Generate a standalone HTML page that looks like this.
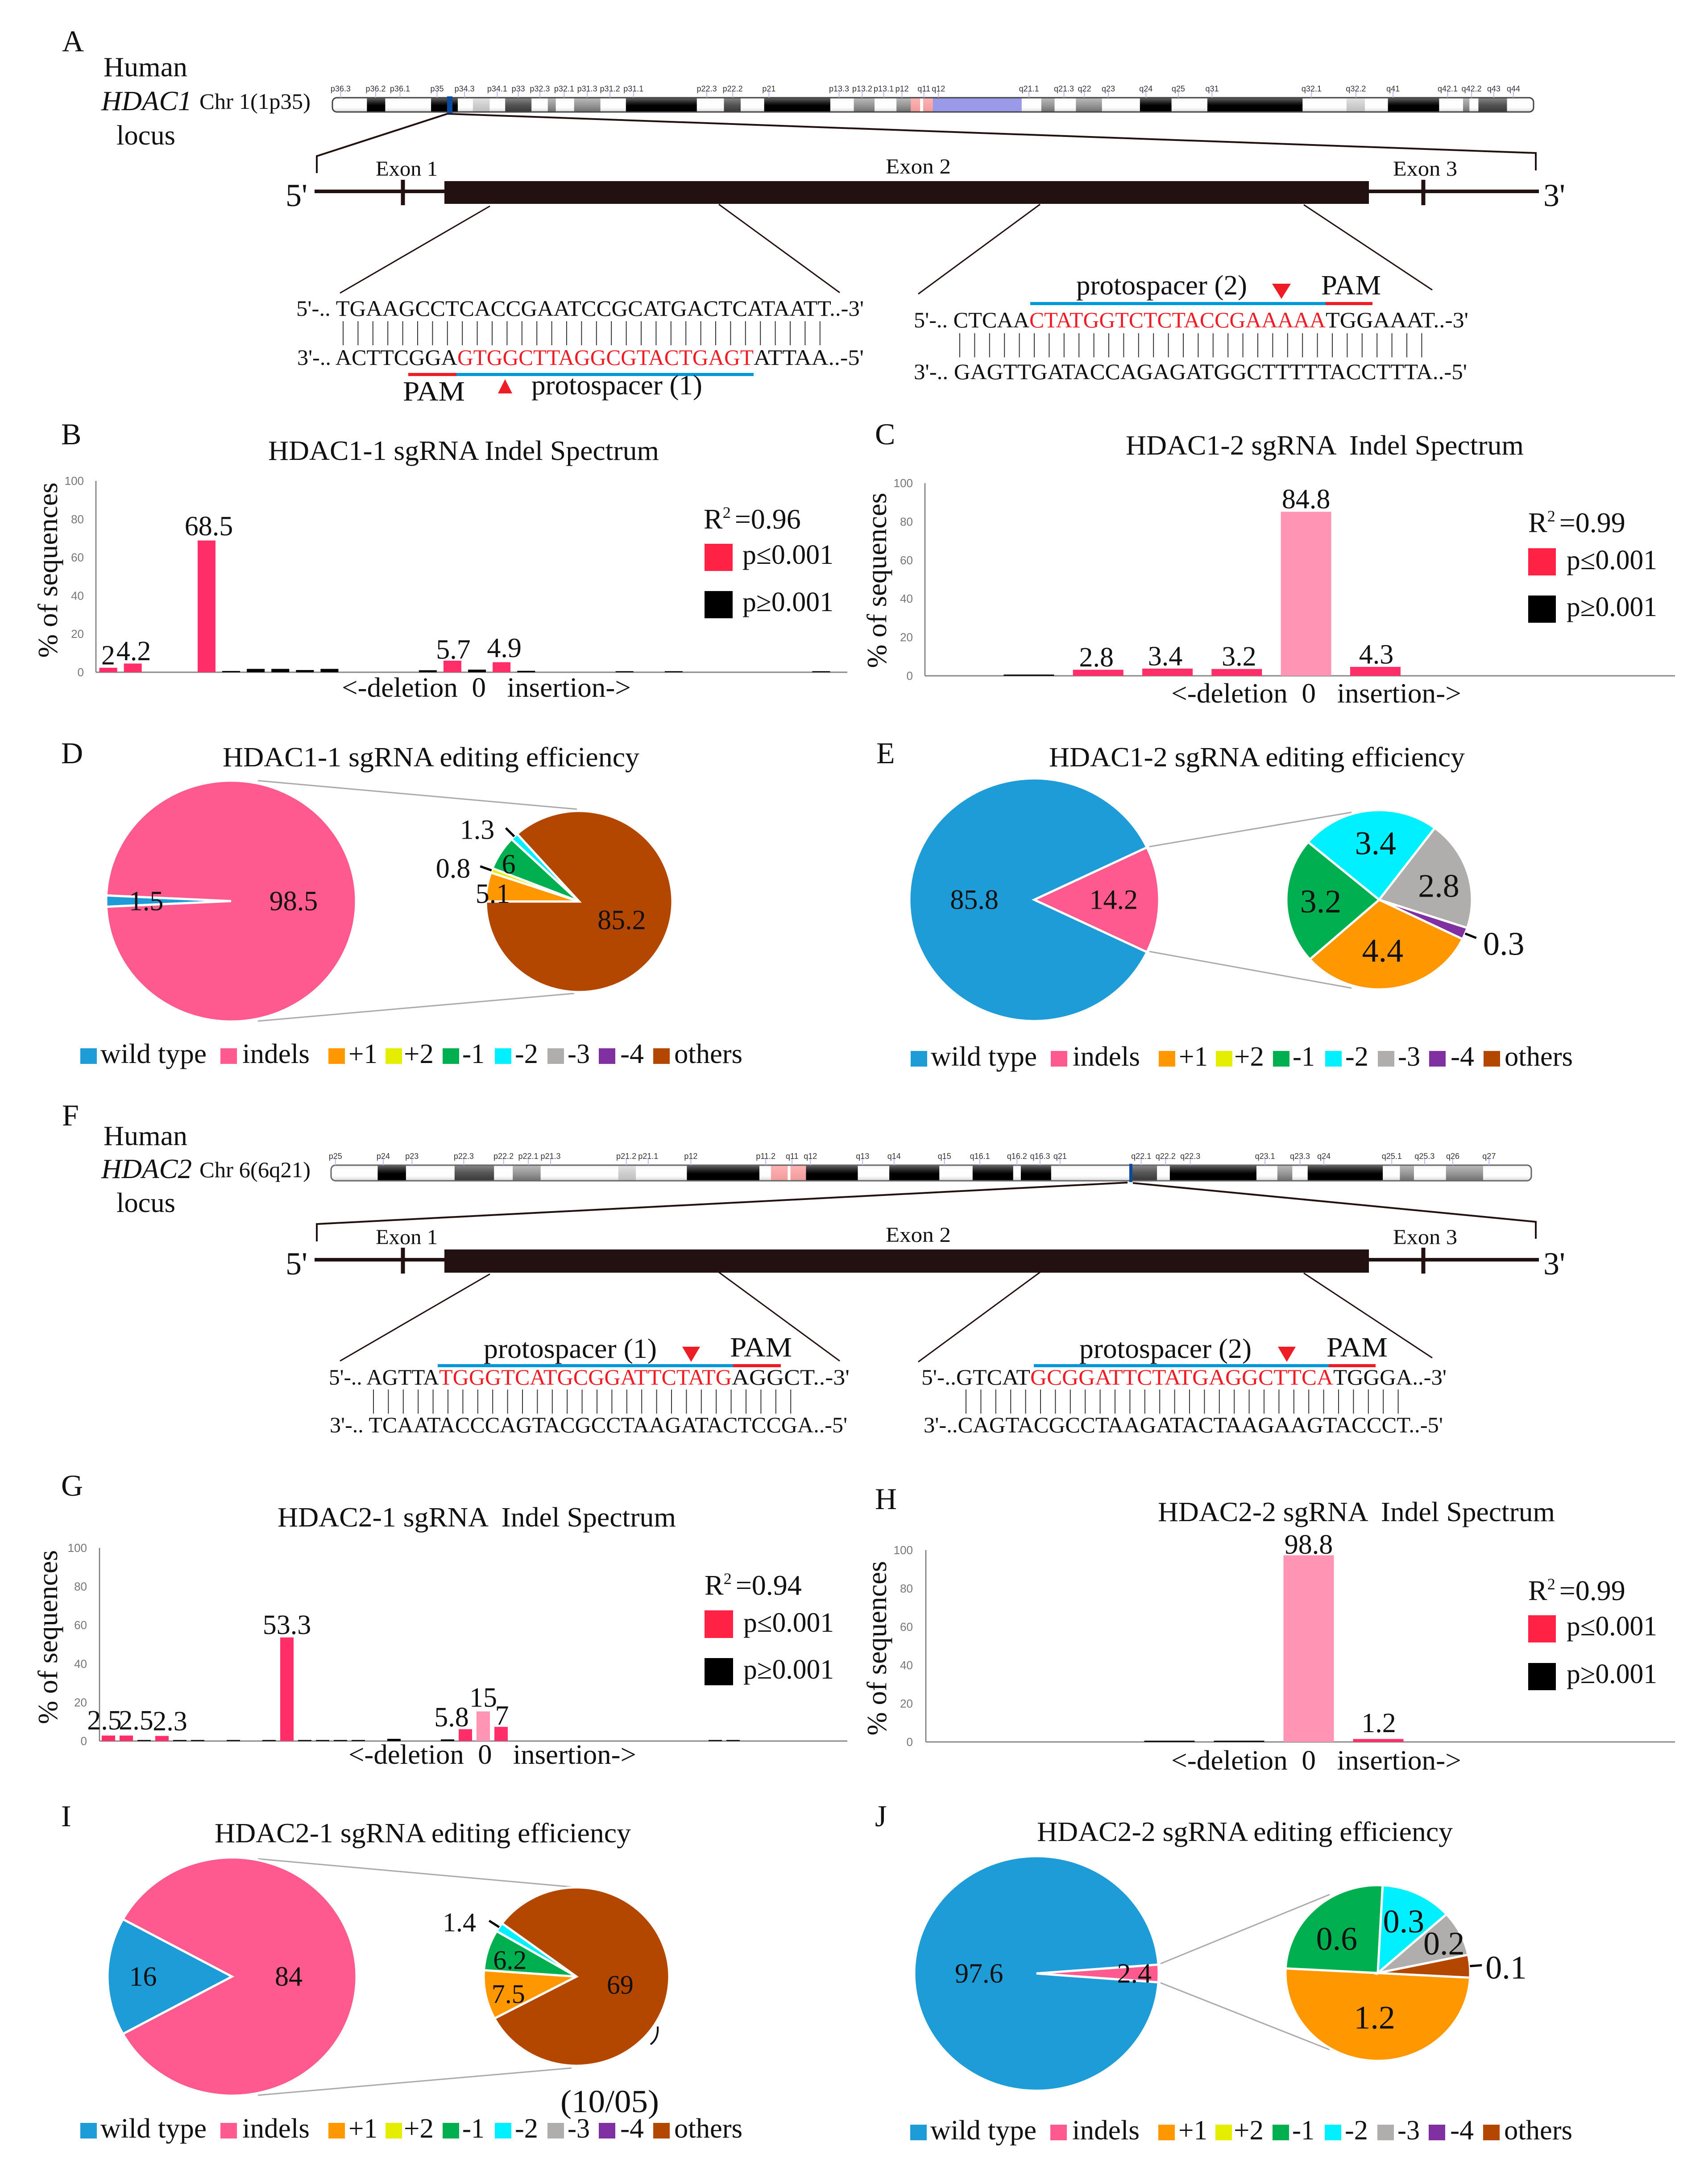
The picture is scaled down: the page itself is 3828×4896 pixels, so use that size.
<!DOCTYPE html>
<html lang="en">
<head>
<meta charset="utf-8">
<title>HDAC1 and HDAC2 sgRNA editing figure</title>
<style>
html,body{margin:0;padding:0;background:#fff}
svg{display:block}
text{white-space:pre;font-family:"Liberation Serif","DejaVu Serif",serif;fill:#111}
.g{stroke:#231010;fill:none}
.c{stroke:#aaa;stroke-width:3;fill:none}
</style>
</head>
<body>
<svg id="figure" width="3828" height="4896" viewBox="0 0 3828 4896">
<defs>
<linearGradient id="gW" x1="0" y1="0" x2="0" y2="1"><stop offset="0" stop-color="#f2f2f2"/><stop offset=".3" stop-color="#fff"/><stop offset=".7" stop-color="#fdfdfd"/><stop offset="1" stop-color="#d8d8d8"/></linearGradient>
<linearGradient id="gK" x1="0" y1="0" x2="0" y2="1"><stop offset="0" stop-color="#666"/><stop offset=".3" stop-color="#2a2a2a"/><stop offset=".55" stop-color="#000"/><stop offset="1" stop-color="#000"/></linearGradient>
<linearGradient id="gD" x1="0" y1="0" x2="0" y2="1"><stop offset="0" stop-color="#888"/><stop offset=".5" stop-color="#555"/><stop offset="1" stop-color="#383838"/></linearGradient>
<linearGradient id="gM" x1="0" y1="0" x2="0" y2="1"><stop offset="0" stop-color="#bbb"/><stop offset=".5" stop-color="#999"/><stop offset="1" stop-color="#707070"/></linearGradient>
<linearGradient id="gL" x1="0" y1="0" x2="0" y2="1"><stop offset="0" stop-color="#e2e2e2"/><stop offset="1" stop-color="#bdbdbd"/></linearGradient>
<linearGradient id="gP" x1="0" y1="0" x2="0" y2="1"><stop offset="0" stop-color="#ffb4b4"/><stop offset="1" stop-color="#f09a9a"/></linearGradient>
<clipPath id="clipChr1"><rect x="745" y="219" width="2692" height="32" rx="10"/></clipPath>
<clipPath id="clipChr6"><rect x="742" y="2612" width="2690" height="35" rx="10"/></clipPath>
</defs>
<rect x="0" y="0" width="3828" height="4896" fill="#fff"/>

<!-- panel letters -->
<g font-size="68">
<text x="139" y="115">A</text>
<text x="137" y="996">B</text>
<text x="1961" y="996">C</text>
<text x="137" y="1711">D</text>
<text x="1964" y="1711">E</text>
<text x="139" y="2523">F</text>
<text x="137" y="3353">G</text>
<text x="1961" y="3383">H</text>
<text x="137" y="4094">I</text>
<text x="1961" y="4094">J</text>
</g>

<!-- panel A locus -->
<g>
<text x="232" y="171" font-size="62" textLength="188" lengthAdjust="spacingAndGlyphs">Human</text>
<text x="227" y="247" font-size="62" font-style="italic" textLength="203" lengthAdjust="spacingAndGlyphs">HDAC1</text>
<text x="447" y="244" font-size="50" textLength="249" lengthAdjust="spacingAndGlyphs">Chr 1(1p35)</text>
<text x="261" y="324" font-size="62" textLength="132" lengthAdjust="spacingAndGlyphs">locus</text>
<path class="g" stroke-width="4" d="M710 388V350L1003 255L3442 343V382"/>
<text x="842" y="394" font-size="48" textLength="139" lengthAdjust="spacingAndGlyphs">Exon 1</text>
<text x="1985" y="389" font-size="48" textLength="146" lengthAdjust="spacingAndGlyphs">Exon 2</text>
<text x="3122" y="394" font-size="48" textLength="144" lengthAdjust="spacingAndGlyphs">Exon 3</text>
<text x="640" y="462" font-size="72">5'</text>
<text x="3459" y="462" font-size="72">3'</text>
<line class="g" stroke-width="8" x1="705" y1="429" x2="3449" y2="429"/>
<rect x="996" y="406" width="2072" height="51" fill="#231010"/>
<line class="g" stroke-width="9" x1="903" y1="403" x2="903" y2="460"/>
<line class="g" stroke-width="9" x1="3190" y1="403" x2="3190" y2="460"/>
<path class="g" stroke-width="3" d="M1098 462L762 657M1611 458L1882 656M2331 458L2058 659M2922 459L3210 650"/>

<text x="664" y="708" font-size="50" textLength="1272" lengthAdjust="spacingAndGlyphs">5'-.. TGAAGCCTCACCGAATCCGCATGACTCATAATT..-3'</text>
<line x1="768" y1="747" x2="1842" y2="747" stroke="#333" stroke-width="54" stroke-dasharray="2 31.4"/>
<text x="666" y="818" font-size="50" textLength="359" lengthAdjust="spacingAndGlyphs">3'-.. ACTTCGGA</text>
<text x="1025" y="818" font-size="50" style="fill:#ee1c25" textLength="664" lengthAdjust="spacingAndGlyphs">GTGGCTTAGGCGTACTGAGT</text>
<text x="1689" y="818" font-size="50" textLength="247" lengthAdjust="spacingAndGlyphs">ATTAA..-5'</text>
<rect x="915" y="836" width="108" height="7" fill="#ee1c25"/>
<rect x="1023" y="836" width="666" height="7" fill="#0098d8"/>
<text x="903" y="898" font-size="62" textLength="139" lengthAdjust="spacingAndGlyphs">PAM</text>
<polygon points="1132,850 1148,882 1116,882" fill="#ee1c25"/>
<text x="1191" y="884" font-size="62" textLength="383" lengthAdjust="spacingAndGlyphs">protospacer (1)</text>

<text x="2412" y="660" font-size="62" textLength="383" lengthAdjust="spacingAndGlyphs">protospacer (2)</text>
<polygon points="2851,636 2893,636 2872,670" fill="#ee1c25"/>
<text x="2961" y="660" font-size="62" textLength="134" lengthAdjust="spacingAndGlyphs">PAM</text>
<rect x="2309" y="677" width="662" height="7" fill="#0098d8"/>
<rect x="2971" y="677" width="105" height="7" fill="#ee1c25"/>
<text x="2048" y="734" font-size="50" textLength="259" lengthAdjust="spacingAndGlyphs">5'-.. CTCAA</text>
<text x="2307" y="734" font-size="50" style="fill:#ee1c25" textLength="664" lengthAdjust="spacingAndGlyphs">CTATGGTCTCTACCGAAAAA</text>
<text x="2971" y="734" font-size="50" textLength="320" lengthAdjust="spacingAndGlyphs">TGGAAAT..-3'</text>
<line x1="2150" y1="774" x2="3195" y2="774" stroke="#333" stroke-width="54" stroke-dasharray="2 31.4"/>
<text x="2048" y="850" font-size="50" textLength="1240" lengthAdjust="spacingAndGlyphs">3'-.. GAGTTGATACCAGAGATGGCTTTTTACCTTTA..-5'</text>
</g>

<!-- panel F locus -->
<g>
<text x="232" y="2567" font-size="62" textLength="188" lengthAdjust="spacingAndGlyphs">Human</text>
<text x="227" y="2641" font-size="62" font-style="italic" textLength="203" lengthAdjust="spacingAndGlyphs">HDAC2</text>
<text x="447" y="2639" font-size="50" textLength="249" lengthAdjust="spacingAndGlyphs">Chr 6(6q21)</text>
<text x="261" y="2717" font-size="62" textLength="132" lengthAdjust="spacingAndGlyphs">locus</text>
<path class="g" stroke-width="4" d="M710 2783V2744L2527 2651M2539 2652L3442 2739V2777"/>
<text x="842" y="2789" font-size="48" textLength="139" lengthAdjust="spacingAndGlyphs">Exon 1</text>
<text x="1985" y="2784" font-size="48" textLength="146" lengthAdjust="spacingAndGlyphs">Exon 2</text>
<text x="3122" y="2789" font-size="48" textLength="144" lengthAdjust="spacingAndGlyphs">Exon 3</text>
<text x="640" y="2857" font-size="72">5'</text>
<text x="3459" y="2857" font-size="72">3'</text>
<line class="g" stroke-width="8" x1="705" y1="2824" x2="3449" y2="2824"/>
<rect x="996" y="2801" width="2072" height="52" fill="#231010"/>
<line class="g" stroke-width="9" x1="903" y1="2797" x2="903" y2="2855"/>
<line class="g" stroke-width="9" x1="3190" y1="2797" x2="3190" y2="2855"/>
<path class="g" stroke-width="3" d="M1098 2856L762 3051M1611 2852L1882 3051M2331 2852L2058 3053M2922 2854L3210 3044"/>

<text x="1084" y="3044" font-size="62" textLength="388" lengthAdjust="spacingAndGlyphs">protospacer (1)</text>
<polygon points="1529,3019 1569,3019 1549,3053" fill="#ee1c25"/>
<text x="1636" y="3041" font-size="62" textLength="139" lengthAdjust="spacingAndGlyphs">PAM</text>
<rect x="981" y="3058" width="662" height="7" fill="#0098d8"/>
<rect x="1643" y="3058" width="107" height="7" fill="#ee1c25"/>
<text x="737" y="3104" font-size="50" textLength="247" lengthAdjust="spacingAndGlyphs">5'-.. AGTTA</text>
<text x="984" y="3104" font-size="50" style="fill:#ee1c25" textLength="656" lengthAdjust="spacingAndGlyphs">TGGGTCATGCGGATTCTATG</text>
<text x="1640" y="3104" font-size="50" textLength="264" lengthAdjust="spacingAndGlyphs">AGGCT..-3'</text>
<line x1="836" y1="3142" x2="1802" y2="3142" stroke="#333" stroke-width="54" stroke-dasharray="2 31.4"/>
<text x="739" y="3211" font-size="50" textLength="1160" lengthAdjust="spacingAndGlyphs">3'-.. TCAATACCCAGTACGCCTAAGATACTCCGA..-5'</text>

<text x="2419" y="3044" font-size="62" textLength="386" lengthAdjust="spacingAndGlyphs">protospacer (2)</text>
<polygon points="2864,3019 2904,3019 2884,3053" fill="#ee1c25"/>
<text x="2973" y="3041" font-size="62" textLength="137" lengthAdjust="spacingAndGlyphs">PAM</text>
<rect x="2317" y="3058" width="661" height="7" fill="#0098d8"/>
<rect x="2978" y="3058" width="105" height="7" fill="#ee1c25"/>
<text x="2065" y="3104" font-size="50" textLength="244" lengthAdjust="spacingAndGlyphs">5'-..GTCAT</text>
<text x="2309" y="3104" font-size="50" style="fill:#ee1c25" textLength="679" lengthAdjust="spacingAndGlyphs">GCGGATTCTATGAGGCTTCA</text>
<text x="2988" y="3104" font-size="50" textLength="254" lengthAdjust="spacingAndGlyphs">TGGGA..-3'</text>
<line x1="2164" y1="3142" x2="3145" y2="3142" stroke="#333" stroke-width="54" stroke-dasharray="2 31.4"/>
<text x="2070" y="3211" font-size="50" textLength="1164" lengthAdjust="spacingAndGlyphs">3'-..CAGTACGCCTAAGATACTAAGAAGTACCCT..-5'</text>
</g>

<!-- chart titles and axis captions -->
<g font-size="62">
<text x="601" y="1031" textLength="876" lengthAdjust="spacingAndGlyphs">HDAC1-1 sgRNA Indel Spectrum</text>
<text x="2523" y="1019" textLength="892" lengthAdjust="spacingAndGlyphs">HDAC1-2 sgRNA  Indel Spectrum</text>
<text x="499" y="1718" textLength="934" lengthAdjust="spacingAndGlyphs">HDAC1-1 sgRNA editing efficiency</text>
<text x="2351" y="1718" textLength="932" lengthAdjust="spacingAndGlyphs">HDAC1-2 sgRNA editing efficiency</text>
<text x="622" y="3422" textLength="893" lengthAdjust="spacingAndGlyphs">HDAC2-1 sgRNA  Indel Spectrum</text>
<text x="2595" y="3410" textLength="890" lengthAdjust="spacingAndGlyphs">HDAC2-2 sgRNA  Indel Spectrum</text>
<text x="481" y="4130" textLength="933" lengthAdjust="spacingAndGlyphs">HDAC2-1 sgRNA editing efficiency</text>
<text x="2324" y="4127" textLength="932" lengthAdjust="spacingAndGlyphs">HDAC2-2 sgRNA editing efficiency</text>

<text transform="translate(128,1278) rotate(-90)" text-anchor="middle" textLength="393" lengthAdjust="spacingAndGlyphs">% of sequences</text>
<text transform="translate(1986,1301) rotate(-90)" text-anchor="middle" textLength="393" lengthAdjust="spacingAndGlyphs">% of sequences</text>
<text transform="translate(128,3670) rotate(-90)" text-anchor="middle" textLength="390" lengthAdjust="spacingAndGlyphs">% of sequences</text>
<text transform="translate(1986,3695) rotate(-90)" text-anchor="middle" textLength="391" lengthAdjust="spacingAndGlyphs">% of sequences</text>

<text x="766" y="1562" textLength="648" lengthAdjust="spacingAndGlyphs">&lt;-deletion  0   insertion-&gt;</text>
<text x="2625" y="1575" textLength="650" lengthAdjust="spacingAndGlyphs">&lt;-deletion  0   insertion-&gt;</text>
<text x="781" y="3954" textLength="645" lengthAdjust="spacingAndGlyphs">&lt;-deletion  0   insertion-&gt;</text>
<text x="2625" y="3967" textLength="650" lengthAdjust="spacingAndGlyphs">&lt;-deletion  0   insertion-&gt;</text>
</g>

<!-- bar chart keys -->
<g font-size="62">
<text x="1577" y="1185" font-size="64">R<tspan dy="-24" font-size="36">2 </tspan><tspan dy="24">=0.96</tspan></text>
<rect x="1579" y="1219" width="63" height="61" fill="#ff2244"/>
<text x="1664" y="1264" textLength="204" lengthAdjust="spacingAndGlyphs">p≤0.001</text>
<rect x="1579" y="1325" width="63" height="61" fill="#000"/>
<text x="1664" y="1370" textLength="204" lengthAdjust="spacingAndGlyphs">p≥0.001</text>
</g>
<g font-size="62">
<text x="3425" y="1193" font-size="64">R<tspan dy="-24" font-size="36">2 </tspan><tspan dy="24">=0.99</tspan></text>
<rect x="3425" y="1229" width="62" height="61" fill="#ff2244"/>
<text x="3511" y="1276" textLength="203" lengthAdjust="spacingAndGlyphs">p≤0.001</text>
<rect x="3425" y="1335" width="62" height="61" fill="#000"/>
<text x="3511" y="1381" textLength="203" lengthAdjust="spacingAndGlyphs">p≥0.001</text>
</g>
<g font-size="62">
<text x="1579" y="3575" font-size="64">R<tspan dy="-24" font-size="36">2 </tspan><tspan dy="24">=0.94</tspan></text>
<rect x="1579" y="3610" width="64" height="62" fill="#ff2244"/>
<text x="1666" y="3658" textLength="203" lengthAdjust="spacingAndGlyphs">p≤0.001</text>
<rect x="1579" y="3717" width="64" height="61" fill="#000"/>
<text x="1666" y="3763" textLength="203" lengthAdjust="spacingAndGlyphs">p≥0.001</text>
</g>
<g font-size="62">
<text x="3425" y="3587" font-size="64">R<tspan dy="-24" font-size="36">2 </tspan><tspan dy="24">=0.99</tspan></text>
<rect x="3425" y="3621" width="62" height="61" fill="#ff2244"/>
<text x="3511" y="3666" textLength="203" lengthAdjust="spacingAndGlyphs">p≤0.001</text>
<rect x="3425" y="3728" width="62" height="61" fill="#000"/>
<text x="3511" y="3773" textLength="203" lengthAdjust="spacingAndGlyphs">p≥0.001</text>
</g>

<!-- pie connector lines -->
<g>
<path class="c" d="M578 1750L1293 1814M578 2289L1287 2227"/>
<path class="c" d="M2576 1898L3029 1821M2576 2133L3029 2215"/>
<path class="c" d="M578 4167L1281 4230M578 4697L1281 4636"/>
<path class="c" d="M2601 4402L2980 4247M2601 4445L2980 4595"/>
</g>

<g id="ideograms"></g>
<g id="charts"></g>

<!-- stray journal fragments in panel I -->
<path d="M1474 4543Q1476 4570 1458 4583" fill="none" stroke="#111" stroke-width="4"/>
<text x="1256" y="4735" font-size="72" textLength="221" lengthAdjust="spacingAndGlyphs">(10/05)</text>
</svg>

<script>
/* ---------- bar chart data: percent of sequences per indel size ---------- */
const tickLabels = [0, 20, 40, 60, 80, 100];

const panelBValues = [2, 4.2, 0, 0, 68.5, 0.3, 1.4, 1.4, 0.8, 1.4, 0, 0, 0, 0.7, 5.7, 1, 4.9, 0.4, 0, 0, 0, 0.2, 0, 0.2, 0, 0, 0, 0, 0, 0.2, 0];
const panelBKinds = 'rrkkrkkkkkkkkkrkrkkkkkkkkkkkkkk';

const panelCValues = [0, 0.3, 2.8, 3.4, 3.2, 84.8, 4.3, 0, 0, 0, 0];
const panelCKinds = 'kkrrrprkkkk';

const panelGValues = [2.5, 2.5, 0.2, 2.3, 0.2, 0.2, 0, 0.2, 0, 0.2, 53.3, 0.2, 0.2, 0.2, 0.2, 0, 0.8, 0, 0, 0.5, 5.8, 15, 7, 0, 0, 0, 0, 0, 0, 0, 0, 0, 0, 0, 0.2, 0.2, 0, 0, 0, 0, 0, 0];
const panelGKinds = 'rrkrkkkkkkrkkkkkkkkkrprkkkkkkkkkkkkkkkkkkk';

const panelHValues = [0, 0, 0, 0.3, 0.3, 98.8, 1.2, 0, 0, 0, 0];
const panelHKinds = 'kkkkkprkkkk';

/* ---------- pie data ---------- */
const overviewNames = ['wild type', 'indels'];
const breakdownNames = ['+1', '+2', '-1', '-2', '-3', '-4', 'others'];

const panelDOverview = [1.5, 98.5];
const panelDBreakdown = [5.1, 0.8, 6, 1.3, 0, 0, 85.2];
const panelEOverview = [85.8, 14.2];
const panelEBreakdown = [4.4, 0, 3.2, 3.4, 2.8, 0.3, 0];
const panelIOverview = [16, 84];
const panelIBreakdown = [7.5, 0, 6.2, 1.4, 0, 0, 69];
const panelJOverview = [97.6, 2.4];
const panelJBreakdown = [1.2, 0, 0.6, 0.3, 0.2, 0, 0.1];

/* ---------- ideogram band names ---------- */
const chr1LabelsLeft = ['p36.3','p36.2','p36.1','p35','p34.3','p34.1','p33','p32.3','p32.1','p31.3','p31.2','p31.1','p22.3','p22.2','p21','p13.3','p13.2','p13.1','p12','q11'];
const chr1LabelsRight = ['q12','q21.1','q21.3','q22','q23','q24','q25','q31','q32.1','q32.2','q41','q42.1','q42.2','q43','q44'];
const chr6LabelsLeft = ['p25','p24','p23','p22.3','p22.2','p22.1','p21.3','p21.2','p21.1','p12','p11.2','q11','q12','q13','q14'];
const chr6LabelsRight = ['q15','q16.1','q16.2','q16.3','q21','q22.1','q22.2','q22.3','q23.1','q23.3','q24','q25.1','q25.3','q26','q27'];
const chr1LabelAtLeft = [71,159,220,313,382,464,517,571,632,690,747,806,990,1055,1146,1322,1380,1434,1480,1535];
const chr1LabelAtRight = [108,320,402,450,506,594,670,749,982,1086,1173,1301,1357,1409,1455];
const chr6LabelAtLeft = [58,178,250,380,480,542,598,788,843,950,1138,1204,1250,1381,1460];
const chr6LabelAtRight = [122,205,292,346,393,583,640,698,873,955,1011,1170,1247,1313,1398];

const chr1BandsLeft = [[137,'W'],[183,'K'],[298,'W'],[365,'K'],[403,'W'],[445,'L'],[484,'W'],[550,'D'],[591,'W'],[611,'M'],[657,'W'],[723,'M'],[787,'W'],[965,'K'],[1033,'W'],[1075,'D'],[1134,'W'],[1300,'K'],[1359,'W'],[1411,'M'],[1466,'W'],[1502,'M']];
const chr1BandsRight = [[65,'P'],[72,'X'],[95,'P'],[303,'B'],[349,'W'],[380,'M'],[430,'W'],[491,'M'],[580,'W'],[654,'K'],[738,'W'],[961,'K'],[1064,'W'],[1107,'L'],[1161,'W'],[1281,'K'],[1337,'W'],[1352,'M'],[1373,'W'],[1440,'D'],[1502,'W']];
const chr6BandsLeft = [[164,'W'],[235,'K'],[357,'W'],[456,'D'],[503,'W'],[573,'M'],[768,'W'],[812,'L'],[940,'W'],[1122,'K'],[1151,'W'],[1193,'P'],[1200,'X'],[1239,'P'],[1369,'K'],[1448,'W'],[1568,'K']];
const chr6BandsRight = [[110,'K'],[188,'W'],[283,'K'],[301,'W'],[372,'K'],[555,'W'],[620,'D'],[650,'W'],[853,'K'],[902,'W'],[937,'M'],[973,'W'],[1149,'K'],[1189,'W'],[1222,'M'],[1297,'W'],[1384,'M'],[1497,'W']];

/* ---------- helpers ---------- */
const figure = document.getElementById('figure');
const NS = figure.namespaceURI;
const ideogramLayer = document.getElementById('ideograms');
const chartLayer = document.getElementById('charts');

function make(tag, parent) {
  const el = document.createElementNS(NS, tag);
  parent.appendChild(el);
  return el;
}
function set(el, props) {
  for (const key in props) el.setAttribute(key, props[key]);
  return el;
}

/* ---------- ideograms ---------- */
const bandFill = { W: 'url(#gW)', K: 'url(#gK)', D: 'url(#gD)', M: 'url(#gM)', L: 'url(#gL)', P: 'url(#gP)', B: '#9a9ae8', X: '#fff' };

function drawIdeogram(opts) {
  const group = make('g', ideogramLayer);
  
  
  const body = make('g', group);
  
  
  body.setAttribute('clip-path', opts.clip);
  const drawSegments = function (list, start, map) {
    let from = start;
    list.forEach(function (seg) {
      const band = make('rect', body);
      
      
      set(band, { x: map(from), y: opts.y, width: map(seg[0]) - map(from) + 0.5, height: opts.h, fill: bandFill[seg[1]] });
      from = seg[0];
    });
  };
  drawSegments(opts.left, opts.leftStart, opts.mapLeft);
  drawSegments(opts.right, opts.rightStart, opts.mapRight);

  const outline = make('rect', group);
  
  
  set(outline, { x: opts.x, y: opts.y, width: opts.w, height: opts.h, rx: 10, fill: 'none', stroke: opts.stroke, 'stroke-width': 3 });

  const mark = make('rect', group);
  
  
  set(mark, { x: opts.markX, y: opts.y - 3, width: opts.markW, height: opts.h + 6, fill: '#0a4aa0' });

  const drawLabels = function (names, spots, map) {
    names.forEach(function (label, i) {
      const x = map(spots[i]);
      const tick = make('line', group);
      
      
      set(tick, { x1: x, x2: x, y1: opts.y - 14, y2: opts.y, stroke: '#b8b8ff', 'stroke-width': 2 });
      const text = make('text', group);
      
      
      set(text, { x: x, y: opts.y - 14, 'font-size': 18, 'text-anchor': 'middle' });
      text.style.fontFamily = '"Liberation Sans", sans-serif';
      text.style.fill = '#333';
      text.textContent = label;
    });
  };
  drawLabels(opts.leftNames, opts.leftSpots, opts.mapLeft);
  drawLabels(opts.rightNames, opts.rightSpots, opts.mapRight);
}

const ideogramLeft = function (v) { return 700 + v * 0.893; };
const ideogramRight = function (v) { return 2000 + v * 0.9566; };

drawIdeogram({ name: 'chromosome-1-ideogram', clip: 'url(#clipChr1)', x: 745, y: 219, w: 2692, h: 32, stroke: '#444', markX: 1002, markW: 12,
  left: chr1BandsLeft, leftStart: 50, right: chr1BandsRight, rightStart: 43, mapLeft: ideogramLeft, mapRight: ideogramRight,
  leftNames: chr1LabelsLeft, leftSpots: chr1LabelAtLeft, rightNames: chr1LabelsRight, rightSpots: chr1LabelAtRight });
drawIdeogram({ name: 'chromosome-6-ideogram', clip: 'url(#clipChr6)', x: 742, y: 2612, w: 2690, h: 35, stroke: '#666', markX: 2531, markW: 7,
  left: chr6BandsLeft, leftStart: 47, right: chr6BandsRight, rightStart: 0, mapLeft: ideogramLeft, mapRight: ideogramRight,
  leftNames: chr6LabelsLeft, leftSpots: chr6LabelAtLeft, rightNames: chr6LabelsRight, rightSpots: chr6LabelAtRight });

/* ---------- bar charts ---------- */
const barFill = { r: '#ff2d68', p: '#ff94b4', k: '#000' };

function drawBarChart(opts) {
  const group = make('g', chartLayer);
  
  

  const tickAxis = function (v) { return opts.y0 - (opts.y0 - opts.yTop) * v / 100; };
  const valueAxis = function (v) { return opts.y0 - opts.barSpan * v / 100; };
  const xAxis = function (i) { return opts.x0 + opts.band * (i + 0.5); };

  const axisLeft = make('line', group);
  
  
  set(axisLeft, { x1: opts.x0, x2: opts.x0, y1: opts.yTop, y2: opts.y0, stroke: '#777', 'stroke-width': 2.5 });

  const axisBottom = make('line', group);
  
  
  set(axisBottom, { x1: opts.x0, x2: opts.xEnd, y1: opts.y0, y2: opts.y0, stroke: '#888', 'stroke-width': 3 });

  opts.values.forEach(function (v, i) {
    if (!v) return;
    const top = valueAxis(v);
    const bar = make('rect', group);
    
    
    set(bar, { x: xAxis(i) - opts.barW / 2, y: top - 1.5, width: opts.barW, height: opts.y0 - top + 1.5, fill: barFill[opts.kinds[i]] });
    if (opts.kinds[i] !== 'k') {
      const nudge = opts.nudge[i] || [0, 0];
      const label = make('text', group);
      
      
      set(label, { x: xAxis(i) + nudge[0], y: top - 9 + nudge[1], 'font-size': 62, 'text-anchor': 'middle' });
      label.textContent = String(v);
    }
  });

  tickLabels.forEach(function (t) {
    const tick = make('text', group);
    
    
    set(tick, { x: opts.tickX, y: tickAxis(t) + 9, 'font-size': 26, 'text-anchor': 'end' });
    tick.style.fontFamily = '"Liberation Sans", sans-serif';
    tick.style.fill = '#777';
    tick.textContent = String(t);
  });
}

drawBarChart({ name: 'panel-b-spectrum', values: panelBValues, kinds: panelBKinds, x0: 215, xEnd: 1899, y0: 1507, yTop: 1078, barSpan: 429, band: 55.1, barW: 40, tickX: 188,
  nudge: { 1: [2, 0], 4: [5, -4], 14: [2, 3], 16: [6, -4] } });
drawBarChart({ name: 'panel-c-spectrum', values: panelCValues, kinds: panelCKinds, x0: 2073, xEnd: 3754, y0: 1515, yTop: 1083, barSpan: 432, band: 155.3, barW: 113, tickX: 2046,
  nudge: { 2: [-4, 0], 3: [-5, 0], 4: [5, 0], 6: [2, 0] } });
drawBarChart({ name: 'panel-g-spectrum', values: panelGValues, kinds: panelGKinds, x0: 223, xEnd: 1899, y0: 3903, yTop: 3470, barSpan: 433, band: 40, barW: 30, tickX: 195,
  nudge: { 0: [-9, -6], 1: [22, -6], 3: [18, -5], 20: [-31, 1], 21: [0, -3], 22: [2, 3] } });
drawBarChart({ name: 'panel-h-spectrum', values: panelHValues, kinds: panelHKinds, x0: 2075, xEnd: 3754, y0: 3905, yTop: 3475, barSpan: 422, band: 156, barW: 113, tickX: 2046,
  nudge: { 5: [0, 4], 6: [1, -8] } });

/* ---------- pies ---------- */
const overviewColors = ['#1e9cd8', '#ff5a90'];
const breakdownColors = ['#ff9800', '#e6ee00', '#00b050', '#00f0ff', '#b0adad', '#8030a0', '#b34700'];

function pieStartFor(values, index, centerAngle) {
  const total = values.reduce(function (a, b) { return a + b; }, 0);
  let before = 0;
  for (let i = 0; i < index; i++) before += values[i];
  return centerAngle - (before + values[index] / 2) / total * 360;
}

function drawPie(opts) {
  const group = make('g', chartLayer);
  
  

  const total = opts.values.reduce(function (a, b) { return a + b; }, 0);
  const point = function (deg, frac) {
    const a = deg * Math.PI / 180;
    return [opts.cx + opts.rx * frac * Math.sin(a), opts.cy - opts.ry * frac * Math.cos(a)];
  };
  const overlays = [];
  let angle = opts.start;
  opts.values.forEach(function (v, i) {
    if (!v) return;
    const sweep = v / total * 360;
    const p1 = point(angle, 1);
    const p2 = point(angle + sweep, 1);
    const slice = make('path', group);
    
    
    set(slice, {
      d: 'M' + opts.cx + ' ' + opts.cy + 'L' + p1[0] + ' ' + p1[1] + 'A' + opts.rx + ' ' + opts.ry + ' 0 ' + (sweep > 180 ? 1 : 0) + ' 1 ' + p2[0] + ' ' + p2[1] + 'Z',
      fill: opts.colors[i], stroke: '#fff', 'stroke-width': 5, 'stroke-linejoin': 'miter'
    });
    overlays.push({ value: v, mid: angle + sweep / 2, place: opts.placement[i] });
    angle += sweep;
  });
  overlays.forEach(function (item) {
    const where = point(item.mid + item.place[1], item.place[0]);
    if (item.place[0] > 1.2) {
      const a = point(item.mid, 1);
      const b = point(item.mid, 1.13);
      const leader = make('line', group);
      
      
      set(leader, { x1: a[0], y1: a[1], x2: b[0], y2: b[1], stroke: '#000', 'stroke-width': 5 });
    }
    const label = make('text', group);
    
    
    set(label, { x: where[0], y: where[1] + opts.font * 0.33, 'font-size': opts.font, 'text-anchor': 'middle' });
    label.textContent = String(item.value);
  });
}

drawPie({ name: 'panel-d-overview-pie', values: panelDOverview, names: overviewNames, colors: overviewColors, cx: 518, cy: 2020, rx: 280, ry: 270,
  start: pieStartFor(panelDOverview, 0, 270), font: 62, placement: [[0.68, 0], [0.5, 0]] });
drawPie({ name: 'panel-d-breakdown-pie', values: panelDBreakdown, names: breakdownNames, colors: breakdownColors, cx: 1298, cy: 2021, rx: 209, ry: 203,
  start: 270, font: 62, placement: [[0.93, -4], [1.4, -5], [0.86, -4], [1.35, -10], [0, 0], [0, 0], [0.5, 0]] });
drawPie({ name: 'panel-e-overview-pie', values: panelEOverview, names: overviewNames, colors: overviewColors, cx: 2318, cy: 2017, rx: 280, ry: 272,
  start: pieStartFor(panelEOverview, 1, 90), font: 62, placement: [[0.48, 0], [0.635, 0]] });
drawPie({ name: 'panel-e-breakdown-pie', values: panelEBreakdown, names: breakdownNames, colors: breakdownColors, cx: 3091, cy: 2017, rx: 208, ry: 201,
  start: 116, font: 74, placement: [[0.57, 4], [0, 0], [0.63, -1], [0.63, 3], [0.66, 4], [1.43, -2], [0, 0]] });
drawPie({ name: 'panel-i-overview-pie', values: panelIOverview, names: overviewNames, colors: overviewColors, cx: 520, cy: 4431, rx: 279, ry: 267,
  start: pieStartFor(panelIOverview, 0, 270), font: 62, placement: [[0.715, 0], [0.455, 0]] });
drawPie({ name: 'panel-i-breakdown-pie', values: panelIBreakdown, names: breakdownNames, colors: breakdownColors, cx: 1292, cy: 4431, rx: 208, ry: 200,
  start: 242, font: 60, placement: [[0.76, -3], [0, 0], [0.74, -3], [1.4, -8], [0, 0], [0, 0], [0.48, 7]] });
drawPie({ name: 'panel-j-overview-pie', values: panelJOverview, names: overviewNames, colors: overviewColors, cx: 2323, cy: 4424, rx: 274, ry: 263,
  start: pieStartFor(panelJOverview, 1, 90), font: 62, placement: [[0.47, 0], [0.8, 0]] });
drawPie({ name: 'panel-j-breakdown-pie', values: panelJBreakdown, names: breakdownNames, colors: breakdownColors, cx: 3088, cy: 4423, rx: 207, ry: 197,
  start: 93, font: 74, placement: [[0.51, 1], [0, 0], [0.59, -7], [0.65, 0], [0.79, 2], [0, 0], [1.39, 2]] });

/* ---------- pie legends ---------- */
const legendLabels = ['wild type', 'indels', '+1', '+2', '-1', '-2', '-3', '-4', 'others'];
const legendColors = ['#1e9cd8', '#ff5a90', '#ff9800', '#e6ee00', '#00b050', '#00f0ff', '#b0adad', '#8030a0', '#b34700'];
const legendSwatchAt = [180, 494, 736, 864, 992, 1109, 1227, 1342, 1464];
const legendTextAt = [225, 543, 781, 905, 1036, 1154, 1272, 1390, 1511];
const legendTextEnd = [463, 694, 846, 972, 1086, 1206, 1322, 1443, 1664];

function drawLegend(name, dx, dy) {
  const group = make('g', chartLayer);
  
  
  legendLabels.forEach(function (label, i) {
    const swatch = make('rect', group);
    
    
    set(swatch, { x: legendSwatchAt[i] + dx, y: 2350 + dy, width: 37, height: 35, fill: legendColors[i] });
    const text = make('text', group);
    
    
    set(text, { x: legendTextAt[i] + dx, y: 2383 + dy, 'font-size': 62, textLength: legendTextEnd[i] - legendTextAt[i], lengthAdjust: 'spacingAndGlyphs' });
    text.textContent = label;
  });
}
drawLegend('panel-d-legend', 0, 0);
drawLegend('panel-e-legend', 1861, 6);
drawLegend('panel-i-legend', 0, 2409);
drawLegend('panel-j-legend', 1860, 2413);
</script>
</body>
</html>
